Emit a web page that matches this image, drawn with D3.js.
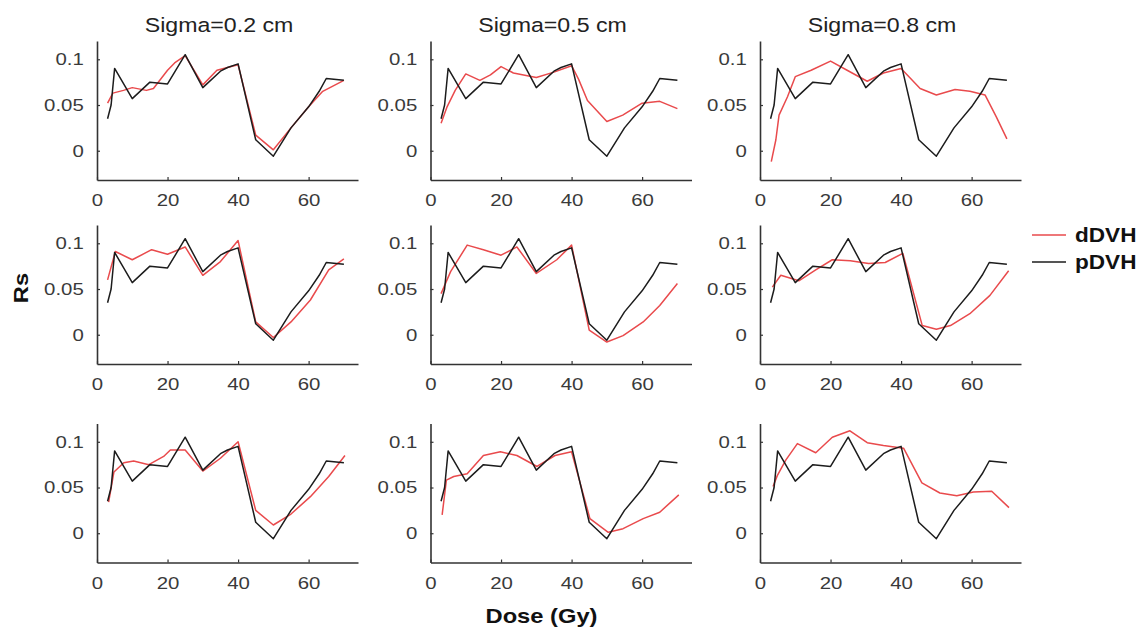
<!DOCTYPE html>
<html>
<head>
<meta charset="utf-8">
<script src="https://cdn.jsdelivr.net/npm/d3@7/dist/d3.min.js"></script>
<style>
  body { margin: 0; background: #fff; }
  svg { display: block; font-family: "Liberation Sans", Arial, sans-serif; }
</style>
</head>
<body>
<svg width="1147" height="628"></svg>
<script>
// column titles and legend
const sigmaTitles = ["Sigma=0.2 cm", "Sigma=0.5 cm", "Sigma=0.8 cm"];
const seriesNames = ["dDVH", "pDVH"];
const xTicks = [0, 20, 40, 60];
const yTicks = [0, 0.05, 0.1];

// pDVH (black) is the same in every panel
const pdvhDose = [3, 4, 5, 10, 15, 20, 25, 30, 35, 37, 40, 45, 50, 55, 60, 63, 65, 70];
const pdvhRs   = [0.035, 0.050, 0.090, 0.057, 0.075, 0.073, 0.105, 0.069, 0.087, 0.091, 0.095, 0.012, -0.006, 0.025, 0.048, 0.065, 0.079, 0.077];

// dDVH (red), one pair of arrays per panel, row by row
const d1aDose = [3, 4.5, 7.5, 10, 14, 16, 20, 22, 25, 30, 34, 40, 45, 50, 55, 60, 64, 70];
const d1aRs   = [0.052, 0.063, 0.066, 0.069, 0.066, 0.068, 0.088, 0.096, 0.104, 0.072, 0.088, 0.094, 0.017, 0.001, 0.025, 0.048, 0.065, 0.077];
const d1bDose = [3, 4.7, 7, 10, 14, 17, 20, 23.5, 30, 35, 40, 42, 44.5, 50, 54.5, 60, 65, 70];
const d1bRs   = [0.030, 0.048, 0.066, 0.084, 0.077, 0.083, 0.092, 0.085, 0.080, 0.086, 0.093, 0.078, 0.055, 0.032, 0.039, 0.052, 0.054, 0.046];
const d1cDose = [3.2, 4.5, 5.4, 7.8, 10, 14.5, 20, 24.7, 30.4, 35, 40, 45.4, 50, 55.3, 59.5, 63.8, 67, 70];
const d1cRs   = [-0.012, 0.012, 0.039, 0.059, 0.081, 0.088, 0.098, 0.088, 0.076, 0.085, 0.090, 0.068, 0.061, 0.067, 0.065, 0.061, 0.037, 0.013];

const d2aDose = [3, 5.2, 10, 15.5, 20, 25, 30, 35, 40, 45, 50, 55, 60.5, 65.7, 70];
const d2aRs   = [0.060, 0.091, 0.082, 0.093, 0.088, 0.096, 0.065, 0.080, 0.103, 0.014, -0.003, 0.014, 0.038, 0.071, 0.083];
const d2bDose = [3, 5.7, 10.4, 15, 20, 24.5, 30, 35.8, 40, 45, 50, 54.6, 60.3, 65, 70];
const d2bRs   = [0.045, 0.069, 0.098, 0.093, 0.087, 0.096, 0.067, 0.082, 0.098, 0.005, -0.008, -0.001, 0.014, 0.032, 0.056];
const d2cDose = [3.5, 5.9, 11, 15.8, 20.5, 25.6, 30.8, 35.5, 40.5, 46, 50, 54, 59.5, 65.2, 70.5];
const d2cRs   = [0.052, 0.065, 0.059, 0.071, 0.082, 0.081, 0.078, 0.079, 0.089, 0.010, 0.006, 0.010, 0.023, 0.043, 0.070];

const d3aDose = [3.3, 4.8, 7.6, 10.4, 14.7, 18.9, 20.8, 25, 30, 35, 40, 45, 50, 55, 60.5, 65.7, 70.3];
const d3aRs   = [0.034, 0.067, 0.077, 0.079, 0.075, 0.084, 0.091, 0.091, 0.068, 0.082, 0.100, 0.025, 0.009, 0.021, 0.040, 0.062, 0.085];
const d3bDose = [3.3, 4.5, 6.6, 10.4, 15, 19.8, 24.5, 30.2, 35.3, 40, 45.2, 50.4, 54.6, 60.3, 65, 70.4];
const d3bRs   = [0.020, 0.058, 0.062, 0.065, 0.085, 0.089, 0.085, 0.073, 0.085, 0.089, 0.016, 0.001, 0.005, 0.016, 0.023, 0.042];
const d3cDose = [3.7, 4.9, 7.3, 10.6, 15.8, 20.5, 25.5, 30.4, 35, 40.7, 45.9, 51, 55.8, 60.5, 65.7, 70.6];
const d3cRs   = [0.051, 0.063, 0.080, 0.098, 0.088, 0.105, 0.112, 0.099, 0.096, 0.093, 0.055, 0.044, 0.041, 0.045, 0.046, 0.028];

const redSeries = [
  [[d1aDose, d1aRs], [d1bDose, d1bRs], [d1cDose, d1cRs]],
  [[d2aDose, d2aRs], [d2bDose, d2bRs], [d2cDose, d2cRs]],
  [[d3aDose, d3aRs], [d3bDose, d3bRs], [d3cDose, d3cRs]]
];

// layout
const colLeft = [97, 430.5, 760];
const rowTop = [41, 225, 423.5];
const panelW = 261, panelH = 139;
const red = "#e94a4c", black = "#1c1c1c", axisColor = "#333";
const stretch = 1.13;   // the source text is a bit wide
const tickStretch = 1.2;

const svg = d3.select("svg");

const toPoints = (xs, ys) => xs.map((x, i) => ({ x, y: ys[i] }));

redSeries.forEach((row, r) => {
  row.forEach((pair, c) => {
    const x = d3.scaleLinear().domain([0, 74]).range([colLeft[c], colLeft[c] + panelW]);
    const y = d3.scaleLinear().domain([-0.032, 0.12]).range([rowTop[r] + panelH, rowTop[r]]);
    const g = svg.append("g");

    const line = d3.line().x(d => x(d.x)).y(d => y(d.y));

    g.append("path")
      .datum(toPoints(pair[0], pair[1]))
      .attr("fill", "none")
      .attr("stroke", red)
      .attr("stroke-width", 1.5)
      .attr("stroke-linejoin", "round")
      .attr("d", line);

    g.append("path")
      .datum(toPoints(pdvhDose, pdvhRs))
      .attr("fill", "none")
      .attr("stroke", black)
      .attr("stroke-width", 1.5)
      .attr("stroke-linejoin", "round")
      .attr("d", line);

    // axes, ticks pointing inward like matlab
    const xAxis = g.append("g")
      .attr("transform", `translate(0,${rowTop[r] + panelH})`)
      .call(d3.axisBottom(x).tickValues(xTicks).tickSizeInner(-3).tickSizeOuter(0).tickPadding(14).tickFormat(d => d));
    const yAxis = g.append("g")
      .attr("transform", `translate(${colLeft[c]},0)`)
      .call(d3.axisLeft(y).tickValues(yTicks).tickSizeInner(-3).tickSizeOuter(0).tickPadding(11).tickFormat(d => d));

    [xAxis, yAxis].forEach(a => {
      a.select(".domain").attr("stroke", axisColor).attr("stroke-width", 1.6);
      a.selectAll(".tick line").attr("stroke", axisColor).attr("stroke-width", 1.2);
      a.selectAll(".tick text")
        .attr("fill", "#3a3a3a")
        .style("font-size", "17px")
        .style("font-family", "'Liberation Sans', Arial, sans-serif")
        .attr("transform", `scale(${tickStretch},1)`);
    });

    if (r === 0) {
      svg.append("text")
        .attr("transform", `translate(${colLeft[c] + 122},31.5) scale(${stretch},1)`)
        .attr("text-anchor", "middle")
        .attr("fill", "#222")
        .style("font-size", "20.5px")
        .text(sigmaTitles[c]);
    }
  });
});

// axis titles
svg.append("text")
  .attr("transform", `translate(28,288) rotate(-90) scale(${stretch},1)`)
  .attr("text-anchor", "middle")
  .attr("fill", "#111")
  .style("font-size", "21px")
  .style("font-weight", "bold")
  .text("Rs");

svg.append("text")
  .attr("transform", `translate(541.5,623) scale(${stretch},1)`)
  .attr("text-anchor", "middle")
  .attr("fill", "#111")
  .style("font-size", "21px")
  .style("font-weight", "bold")
  .text("Dose (Gy)");

// legend
const legend = svg.append("g");
seriesNames.forEach((name, i) => {
  const ly = 235 + i * 27;
  legend.append("line")
    .attr("x1", 1032).attr("x2", 1066)
    .attr("y1", ly).attr("y2", ly)
    .attr("stroke", i === 0 ? red : black)
    .attr("stroke-width", 1.5);
  legend.append("text")
    .attr("transform", `translate(1075,${ly + 7}) scale(${stretch},1)`)
    .attr("fill", "#111")
    .style("font-size", "20px")
    .style("font-weight", "bold")
    .text(name);
});
</script>
</body>
</html>
